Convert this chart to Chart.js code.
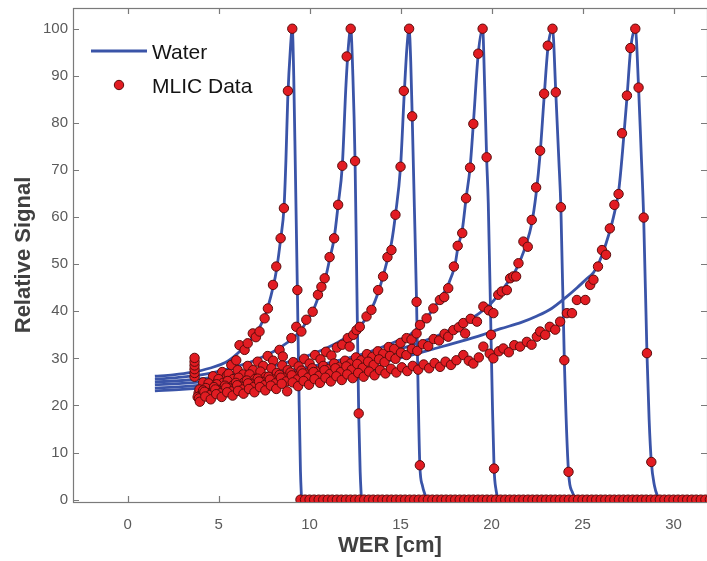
<!DOCTYPE html>
<html>
<head>
<meta charset="utf-8">
<script src="https://cdn.jsdelivr.net/npm/chart.js@4.4.1/dist/chart.umd.min.js"></script>
<style>
  html, body { margin: 0; padding: 0; background: #fff; }
  #wrap { width: 707px; height: 561px; }
</style>
</head>
<body>
<div id="wrap"><canvas id="chart" width="707" height="561"></canvas></div>
<script>
// axis ticks
const xTicks = [0, 5, 10, 15, 20, 25, 30];
const yTicks = [0, 10, 20, 30, 40, 50, 60, 70, 80, 90, 100];

// Water depth-dose curves, [WER cm, relative signal]
const water1 = [[1.5,26.2],[2.5,26.5],[3.5,27.0],[4.5,27.9],[5.5,29.4],[6.2,31.6],[6.9,34.6],[7.5,38.5],[8.0,45.2],[8.2,49.2],[8.4,55.0],[8.6,62.3],[8.7,72],[8.8,85],[8.95,96],[9.05,100],[9.13,90],[9.22,70],[9.33,44.5],[9.43,20],[9.5,6],[9.56,0]];
const water2 = [[1.5,25.6],[3,26.0],[4.5,26.8],[6,28.3],[7,29.6],[8,31.4],[8.5,32.6],[9,34.0],[9.5,35.9],[9.8,37.6],[10.2,40.2],[10.5,43.2],[10.9,47.5],[11.1,51.0],[11.35,55.5],[11.57,62.6],[11.8,71],[12.0,88],[12.15,97],[12.26,100],[12.38,90],[12.5,71.9],[12.6,45],[12.7,18.3],[12.78,6],[12.85,0]];
const water3 = [[1.5,25.0],[3,25.3],[5,26.1],[7,27.5],[9,29.4],[10,30.7],[11,32.3],[12,34.4],[12.6,36.0],[13.1,38.5],[13.4,40.4],[13.8,44.3],[14.05,47.6],[14.3,51.3],[14.5,54.5],[14.72,60.5],[15.0,70.7],[15.2,86],[15.35,96],[15.47,100],[15.56,93],[15.64,81.4],[15.76,62],[15.88,42],[15.97,22],[16.06,7.3],[16.2,3],[16.35,1],[16.47,0]];
const water4 = [[1.5,24.4],[3,24.7],[5,25.4],[7,26.3],[9,27.5],[11,29.0],[13,31.0],[14,32.4],[15,34.0],[15.5,35.0],[16,36.6],[16.45,38.6],[16.8,40.6],[17.2,42.8],[17.6,45.5],[18.0,50.0],[18.15,53.5],[18.4,57.5],[18.6,64.0],[18.82,70.5],[19.0,79.8],[19.27,94.7],[19.51,100],[19.62,88],[19.73,72.7],[19.82,63],[19.97,35],[20.05,20],[20.14,6.6],[20.25,2],[20.37,0]];
const water5 = [[1.5,23.7],[3,24.0],[5,24.7],[7,25.6],[9,26.8],[11,28.2],[13,29.9],[15,32.0],[16.5,34.0],[17.5,35.6],[18.5,37.6],[19.3,39.5],[19.9,41.4],[20.4,43.6],[20.9,46.2],[21.3,48.5],[21.6,51.0],[21.9,54.2],[22.2,58.5],[22.45,65.0],[22.67,73.5],[22.89,85.5],[23.1,96],[23.35,100],[23.53,86.5],[23.7,72],[23.81,62.1],[24.0,29.6],[24.23,5.9],[24.45,1.5],[24.69,0]];
const water6 = [[1.5,23.1],[3,23.4],[5,24.0],[7,24.8],[9,25.8],[11,27.0],[13,28.4],[15,30.1],[17,32.2],[18.3,33.6],[19.5,35.0],[20.5,36.3],[21.6,37.6],[22.5,39.0],[23.3,40.6],[24.1,43.0],[24.7,45.0],[25.2,46.8],[25.6,48.2],[25.9,50.3],[26.3,54.5],[26.7,60],[27.0,66],[27.2,74],[27.45,85.8],[27.65,95.9],[27.9,100],[28.08,87.5],[28.22,74],[28.36,59.9],[28.54,31.1],[28.66,17],[28.78,8],[28.95,3],[29.19,0]];

// MLIC measurements, one list per beam energy
const mlicEntrance = [[3.68,26.1],[3.68,26.9],[3.68,27.7],[3.68,28.5],[3.68,29.3],[3.68,30.1]];
const mlic1 = [[3.9,22.6],[4.15,24.9],[4.4,23.8],[4.7,26.2],[4.95,25.0],[5.2,27.1],[5.45,26.3],[5.7,28.6],[5.97,29.6],[6.15,32.8],[6.43,31.8],[6.6,33.2],[6.88,35.3],[7.05,34.5],[7.25,35.7],[7.53,38.5],[7.71,40.6],[7.99,45.6],[8.17,49.5],[8.41,55.5],[8.59,61.9],[8.81,86.8],[9.05,100],[9.33,44.5]];
const mlic2 = [[3.95,23.4],[4.2,22.6],[4.45,24.7],[4.75,23.9],[5.0,25.6],[5.25,24.8],[5.55,26.7],[5.8,25.6],[6.05,27.5],[6.35,26.6],[6.6,28.4],[6.9,27.5],[7.15,29.3],[7.45,28.4],[7.7,30.5],[8.0,29.5],[8.35,31.8],[8.53,30.4],[9.0,34.3],[9.27,36.7],[9.55,35.7],[9.82,38.2],[10.17,39.9],[10.46,43.5],[10.65,45.2],[10.83,47.0],[11.1,51.5],[11.35,55.5],[11.57,62.6],[11.8,70.9],[12.04,94.1],[12.26,100],[12.5,71.9],[12.7,18.3]];
const mlic3 = [[4.0,22.1],[4.3,23.7],[4.6,22.8],[4.9,24.5],[5.2,23.5],[5.5,25.2],[5.8,24.3],[6.1,25.9],[6.4,24.9],[6.7,26.6],[7.0,25.6],[7.3,27.2],[7.6,26.1],[7.9,27.9],[8.2,26.9],[8.5,28.5],[8.8,27.5],[9.1,29.2],[9.4,28.3],[9.7,29.9],[10.0,28.9],[10.3,30.7],[10.6,29.8],[10.9,31.4],[11.2,30.6],[11.5,32.3],[11.8,32.9],[12.1,34.3],[12.2,32.5],[12.4,35.0],[12.58,36.0],[12.76,36.7],[13.13,38.9],[13.4,40.3],[13.77,44.5],[14.04,47.4],[14.28,51.5],[14.5,53.0],[14.72,60.5],[15.0,70.7],[15.18,86.8],[15.47,100],[15.64,81.4],[15.88,42.0],[16.06,7.3]];
const mlic4 = [[3.85,21.8],[4.15,23.2],[4.45,22.5],[4.75,23.9],[5.05,23.1],[5.35,24.2],[5.65,23.6],[5.95,24.8],[6.25,24.0],[6.55,25.3],[6.85,24.6],[7.15,25.7],[7.45,25.0],[7.75,26.1],[8.05,25.5],[8.35,26.5],[8.65,25.9],[8.95,27.0],[9.25,26.3],[9.55,27.4],[9.85,26.8],[10.15,27.9],[10.45,27.2],[10.75,28.4],[11.05,27.7],[11.35,28.9],[11.65,28.2],[11.95,29.5],[12.25,28.9],[12.55,30.2],[12.85,29.6],[13.15,30.9],[13.45,30.3],[13.75,31.5],[14.05,31.0],[14.35,32.4],[14.65,32.0],[15.0,33.3],[15.33,34.3],[15.6,34.0],[15.88,35.3],[16.07,37.1],[16.43,38.5],[16.8,40.6],[17.16,42.4],[17.4,43.0],[17.62,44.9],[17.93,49.5],[18.14,53.9],[18.39,56.6],[18.6,64.0],[18.82,70.5],[19.0,79.8],[19.27,94.7],[19.51,100],[19.73,72.7],[19.97,35.0],[20.14,6.6]];
const mlic5 = [[3.92,21.5],[4.22,22.9],[4.52,22.2],[4.82,23.4],[5.12,22.6],[5.42,23.8],[5.72,23.0],[6.02,24.3],[6.32,23.4],[6.62,24.7],[6.92,23.9],[7.22,25.1],[7.52,24.3],[7.82,25.5],[8.12,24.7],[8.42,25.9],[8.72,25.1],[9.02,26.4],[9.32,25.5],[9.62,26.8],[9.92,25.9],[10.22,27.1],[10.52,26.3],[10.82,27.5],[11.12,26.7],[11.42,27.9],[11.72,27.1],[12.02,28.3],[12.32,27.6],[12.62,28.8],[12.92,28.0],[13.22,29.3],[13.52,28.6],[13.82,29.8],[14.12,29.2],[14.42,30.5],[14.72,29.9],[15.02,31.2],[15.32,30.7],[15.62,32.0],[15.92,31.6],[16.22,33.0],[16.52,32.6],[16.82,34.1],[17.12,33.8],[17.42,35.2],[17.62,34.6],[17.9,36.0],[18.2,36.6],[18.45,37.5],[18.55,35.3],[18.85,38.4],[19.2,37.8],[19.55,41.0],[19.85,40.2],[20.1,39.6],[20.37,43.5],[20.56,44.2],[20.84,44.5],[21.02,47.0],[21.2,47.4],[21.35,47.4],[21.48,50.2],[21.75,54.8],[21.99,53.7],[22.21,59.4],[22.45,66.3],[22.67,74.1],[22.89,86.2],[23.09,96.4],[23.35,100],[23.53,86.5],[23.81,62.1],[24.0,29.6],[24.23,5.9]];
const mlic6 = [[3.97,20.8],[4.27,21.9],[4.57,21.3],[4.87,22.4],[5.17,21.8],[5.47,22.8],[5.77,22.1],[6.07,23.1],[6.37,22.5],[6.67,23.5],[6.97,22.8],[7.27,23.9],[7.57,23.2],[7.87,24.2],[8.17,23.5],[8.47,24.6],[8.77,23.0],[9.07,24.9],[9.37,24.1],[9.67,25.2],[9.97,24.4],[10.27,25.6],[10.57,24.8],[10.87,25.9],[11.17,25.1],[11.47,26.2],[11.77,25.4],[12.07,26.6],[12.37,25.8],[12.67,26.9],[12.97,26.1],[13.27,27.2],[13.57,26.4],[13.87,27.5],[14.17,26.8],[14.47,27.8],[14.77,27.0],[15.07,28.1],[15.37,27.3],[15.67,28.4],[15.97,27.6],[16.27,28.7],[16.57,27.9],[16.87,29.0],[17.17,28.2],[17.47,29.3],[17.77,28.6],[18.07,29.6],[18.45,30.7],[18.75,29.5],[19.0,28.9],[19.3,30.2],[19.55,32.5],[19.9,31.0],[20.1,30.0],[20.4,31.5],[20.65,32.1],[20.95,31.3],[21.25,32.8],[21.57,32.5],[21.94,33.5],[22.2,32.9],[22.49,34.6],[22.67,35.7],[22.95,35.0],[23.2,36.7],[23.5,36.1],[23.77,37.8],[24.14,39.6],[24.42,39.6],[24.69,42.4],[25.15,42.4],[25.42,45.6],[25.6,46.7],[25.85,49.5],[26.07,53.0],[26.29,52.0],[26.5,57.6],[26.75,62.6],[26.98,64.9],[27.17,77.8],[27.44,85.8],[27.63,95.9],[27.9,100],[28.08,87.5],[28.36,59.9],[28.54,31.1],[28.78,8.0]];
// channels past the distal edge read zero
const mlicZeroDepth = [9.5,9.75,10,10.25,10.5,10.75,11,11.25,11.5,11.75,12,12.25,12.5,12.75,13,13.25,13.5,13.75,14,14.25,14.5,14.75,15,15.25,15.5,15.75,16,16.25,16.5,16.75,17,17.25,17.5,17.75,18,18.25,18.5,18.75,19,19.25,19.5,19.75,20,20.25,20.5,20.75,21,21.25,21.5,21.75,22,22.25,22.5,22.75,23,23.25,23.5,23.75,24,24.25,24.5,24.75,25,25.25,25.5,25.75,26,26.25,26.5,26.75,27,27.25,27.5,27.75,28,28.25,28.5,28.75,29,29.25,29.5,29.75,30,30.25,30.5,30.75,31,31.25,31.5,31.75,32];

const FONT = '"Liberation Sans", Arial, Helvetica, sans-serif';
const LINE_COLOR = 'rgb(58, 84, 168)';
const DOT_FILL = 'rgb(226, 28, 34)';
const DOT_EDGE = 'rgb(90, 12, 12)';
const AXIS_COLOR = '#7a7a7a';

const toPoints = pairs => pairs.map(([x, y]) => ({ x, y }));

const waterSets = [water1, water2, water3, water4, water5, water6].map(c => ({
    label: 'Water',
    data: toPoints(c),
    showLine: true,
    borderColor: LINE_COLOR,
    borderWidth: 2.8,
    pointRadius: 0,
    cubicInterpolationMode: 'monotone',
    order: 2
}));

const mlicPoints = [
    ...mlicEntrance, ...mlic1, ...mlic2, ...mlic3, ...mlic4, ...mlic5, ...mlic6,
    ...mlicZeroDepth.map(x => [x, 0])
];

const mlicSet = {
    label: 'MLIC Data',
    data: toPoints(mlicPoints),
    showLine: false,
    pointRadius: 4.7,
    pointBorderWidth: 1,
    backgroundColor: DOT_FILL,
    borderColor: DOT_EDGE,
    order: 1
};

// box around the plot with inward tick marks on all four sides
const framePlugin = {
    id: 'frame',
    beforeDatasetsDraw(chart) {
        const { ctx, chartArea: a, scales: { x, y } } = chart;
        const len = 6;
        ctx.save();
        ctx.strokeStyle = AXIS_COLOR;
        ctx.lineWidth = 1.2;
        ctx.strokeRect(a.left + 0.5, a.top + 0.5, a.right - a.left, a.bottom - a.top);
        ctx.beginPath();
        xTicks.forEach(v => {
            const px = Math.round(x.getPixelForValue(v)) + 0.5;
            ctx.moveTo(px, a.bottom); ctx.lineTo(px, a.bottom - len);
            ctx.moveTo(px, a.top); ctx.lineTo(px, a.top + len);
        });
        yTicks.forEach(v => {
            const py = Math.round(y.getPixelForValue(v)) + 0.5;
            ctx.moveTo(a.left, py); ctx.lineTo(a.left + len, py);
            ctx.moveTo(a.right, py); ctx.lineTo(a.right - len, py);
        });
        ctx.stroke();
        ctx.restore();
    }
};

// legend in the upper left corner of the plot
const legendPlugin = {
    id: 'cornerLegend',
    afterDraw(chart) {
        const { ctx, chartArea: a } = chart;
        const x0 = a.left + 18, textX = a.left + 79;
        ctx.save();
        ctx.strokeStyle = LINE_COLOR;
        ctx.lineWidth = 3;
        ctx.beginPath();
        ctx.moveTo(x0, a.top + 43);
        ctx.lineTo(x0 + 56, a.top + 43);
        ctx.stroke();
        ctx.beginPath();
        ctx.arc(x0 + 28, a.top + 77, 4.7, 0, Math.PI * 2);
        ctx.fillStyle = DOT_FILL;
        ctx.fill();
        ctx.lineWidth = 1;
        ctx.strokeStyle = DOT_EDGE;
        ctx.stroke();
        ctx.fillStyle = '#141414';
        ctx.font = '21px ' + FONT;
        ctx.textBaseline = 'middle';
        ctx.fillText('Water', textX, a.top + 45);
        ctx.fillText('MLIC Data', textX, a.top + 79);
        ctx.restore();
    }
};

new Chart(document.getElementById('chart'), {
    type: 'scatter',
    data: { datasets: [mlicSet, ...waterSets] },
    options: {
        responsive: false,
        animation: false,
        devicePixelRatio: 1,
        layout: { autoPadding: false, padding: { top: 8, right: 0, left: 0, bottom: 0 } },
        plugins: { legend: { display: false }, tooltip: { enabled: false } },
        scales: {
            x: {
                type: 'linear',
                min: -3,
                max: 31.84,
                afterBuildTicks: s => { s.ticks = xTicks.map(v => ({ value: v })); },
                afterFit: s => { s.height = 59; s.paddingLeft = 0; s.paddingRight = 0; },
                grid: { display: false, drawTicks: false },
                border: { display: false },
                ticks: { color: '#5a5a5a', font: { size: 15, family: FONT }, padding: 14, autoSkip: false, maxRotation: 0 },
                title: { display: true, text: 'WER [cm]', color: '#404040', font: { size: 22, weight: 'bold', family: FONT }, padding: { top: 0, bottom: 2 } }
            },
            y: {
                type: 'linear',
                min: -0.5,
                max: 104.4,
                afterBuildTicks: s => { s.ticks = yTicks.map(v => ({ value: v })); },
                afterFit: s => { s.width = 73; s.paddingTop = 0; s.paddingBottom = 0; },
                grid: { display: false, drawTicks: false },
                border: { display: false },
                ticks: { color: '#5a5a5a', font: { size: 15, family: FONT }, padding: 5, autoSkip: false },
                title: { display: true, text: 'Relative Signal', color: '#404040', font: { size: 22, weight: 'bold', family: FONT }, padding: { top: 11, bottom: 0 } }
            }
        }
    },
    plugins: [framePlugin, legendPlugin]
});
</script>
</body>
</html>
